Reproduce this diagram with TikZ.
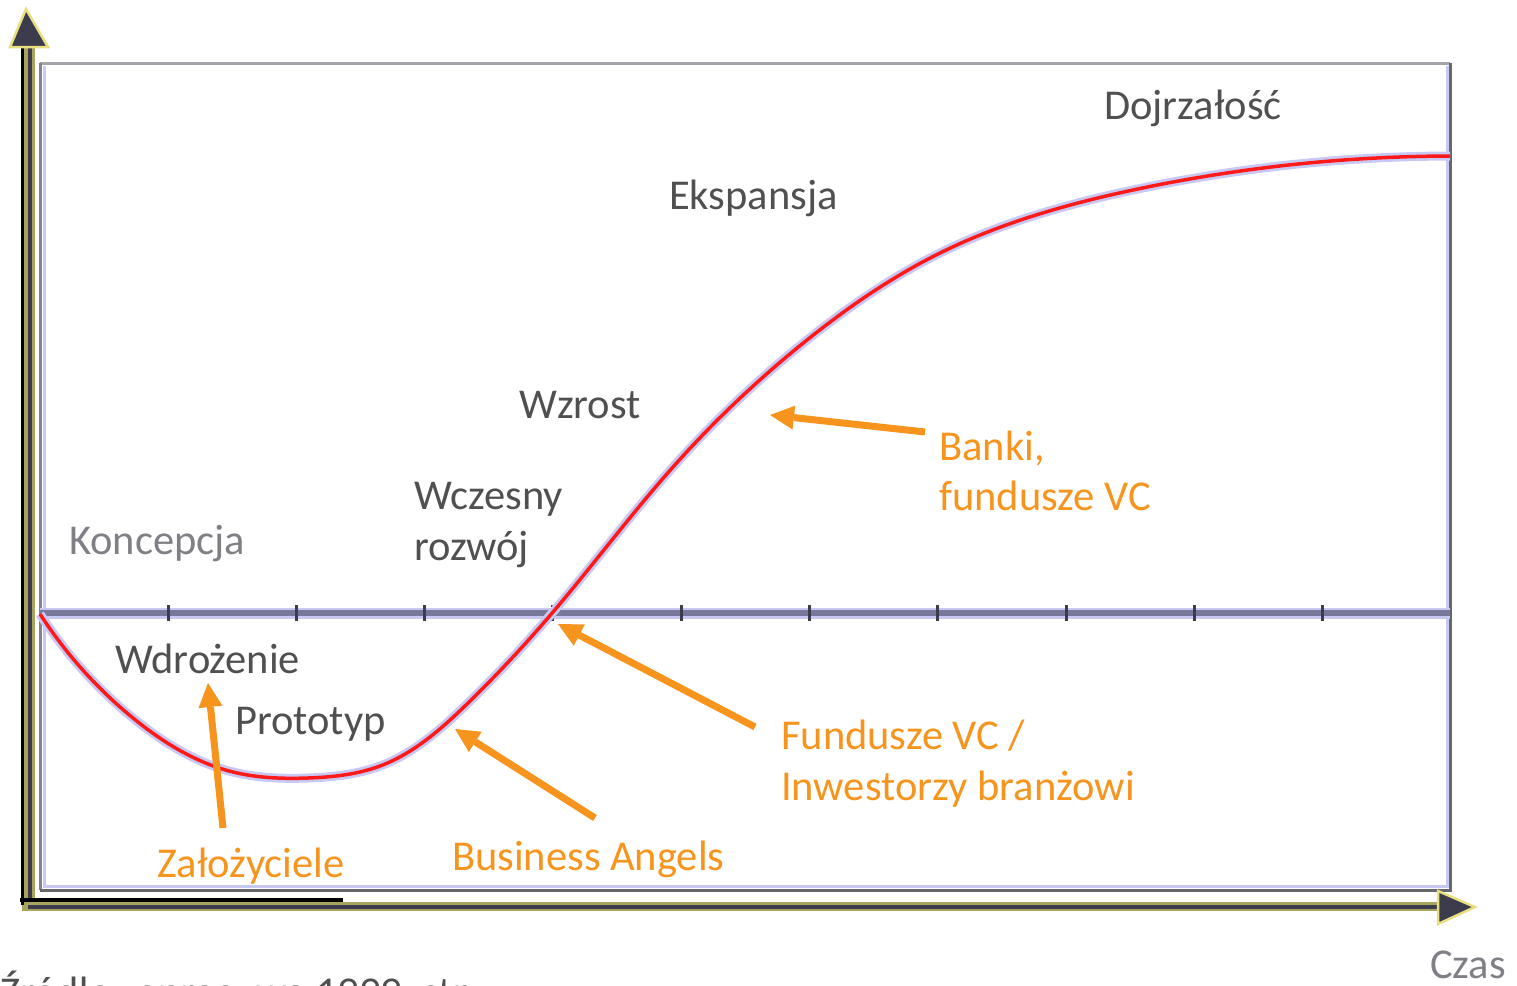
\documentclass[tikz,border=0pt]{standalone}
\usepackage{fontspec}
\setmainfont{Carlito}
\usetikzlibrary{arrows.meta,hobby}
\definecolor{napis}{HTML}{505050}
\definecolor{szary}{HTML}{7F7F85}
\definecolor{pomar}{HTML}{F7941D}
\definecolor{krzywa}{HTML}{FF1A1A}
\definecolor{poswiata}{HTML}{C8C8F4}
\definecolor{os}{HTML}{3C3C4C}
\definecolor{osbrzeg}{HTML}{A8A460}
\definecolor{osjasny}{HTML}{E8E080}
\definecolor{ramka}{HTML}{A4A4AC}
\definecolor{ramkaciem}{HTML}{66666E}
\definecolor{zero}{HTML}{78789A}
\newcommand{\duzy}{\fontsize{42.5}{50}\selectfont}
\tikzset{
	etap/.style={anchor=base west, inner sep=0pt, text=napis, font=\duzy},
	finans/.style={anchor=base west, inner sep=0pt, text=pomar, font=\duzy},
	strzalka/.style={color=pomar, line width=7pt, -{Triangle[length=24pt,width=24pt,line width=0pt]}},
}

\begin{document}
\begin{tikzpicture}[x=1pt, y=-1pt]
	\useasboundingbox (0,0) rectangle (1517,985);
	% ramka wykresu
	\draw[line width=3pt, poswiata] (44,66) -- (44,886) -- (1447,886) -- (1447,66);
	\draw[line width=3pt, ramka] (40,63) -- (1450,63);
	\draw[line width=3pt, ramka!80!black] (40,63) -- (40,890);
	\draw[line width=3pt, ramkaciem] (40,890) -- (1450,890) -- (1450,63);
	% linia zerowa z podzialka
	\draw[line width=11pt, poswiata] (40,613) -- (1450,613);
	\draw[line width=6pt, zero] (40,613) -- (1450,613);
	\foreach \x in {0,...,9}
		\draw[line width=3pt, os] (168+128.3*\x,605) -- (168+128.3*\x,621);
	% krzywa cyklu zycia
	\foreach \kolor/\grubosc in {poswiata/9pt, krzywa/3.5pt}
		\draw[line width=\grubosc, \kolor, use Hobby shortcut]
		(40,614) .. (133,718) .. (233,772) .. (308,778) .. (380,766) .. (467,704)
		.. (553,612) .. (673,467) .. (807,340) .. (940,253) .. (1133,190) .. (1450,156);
	% osie
	\draw[line width=13pt, osbrzeg] (28,46) -- (28,911);
	\draw[line width=4pt, os] (30,46) -- (30,905);
	\draw[line width=3pt, black] (22,46) -- (22,905);
	\draw[line width=9pt, osbrzeg] (28,906) -- (1440,906);
	\draw[line width=4pt, os] (28,907) -- (1440,907);
	\draw[line width=4pt, black] (20,900) -- (343,900);
	\draw[line width=2.5pt, draw=osjasny, fill=os] (26,9) -- (10,47) -- (48,47) -- cycle;
	\draw[line width=2.5pt, draw=osjasny, fill=os] (1475,907) -- (1438,891) -- (1438,924) -- cycle;

	% etapy rozwoju
	\node[etap] (dojrzalosc) at (1104,119) {Dojrzałość};
	\node[etap] (ekspansja) at (669,209) {Ekspansja};
	\node[etap] (wzrost) at (519,418) {Wzrost};
	\node[etap] (wczesny) at (414,509) {Wczesny};
	\node[etap] (rozwoj) at (414,560) {rozwój};
	\node[etap, text=szary] (koncepcja) at (69,554) {Koncepcja};
	\node[etap] (wdrozenie) at (115,673) {Wdrożenie};
	\node[etap] (prototyp) at (235,734) {Prototyp};
	\node[etap, text=szary] (czas) at (1430,978) {Czas};
	\node[etap] (zrodlo) at (0,1006) {Źródło: oprac. wg 1999, str.};

	% zrodla finansowania
	\node[finans] (banki) at (939,460) {Banki,};
	\node[finans] (bankivc) at (939,510) {fundusze VC};
	\node[finans] (fundusze) at (781,749) {Fundusze VC /};
	\node[finans] (inwestorzy) at (781,800) {Inwestorzy branżowi};
	\node[finans] (angels) at (452,870) {Business Angels};
	\node[finans] (zalozyciele) at (157,877) {Założyciele};

	\coordinate (bankiA) at (925,432);
	\coordinate (bankiB) at (770,415);
	\coordinate (funduszeA) at (755,727);
	\coordinate (funduszeB) at (558,624);
	\coordinate (angelsA) at (595,818);
	\coordinate (angelsB) at (455,729);
	\coordinate (zalozycieleA) at (223,828);
	\coordinate (zalozycieleB) at (208,683);
	\path
	(bankiA) edge[strzalka] (bankiB)
	(funduszeA) edge[strzalka] (funduszeB)
	(angelsA) edge[strzalka] (angelsB)
	(zalozycieleA) edge[strzalka] (zalozycieleB);
\end{tikzpicture}
\end{document}
